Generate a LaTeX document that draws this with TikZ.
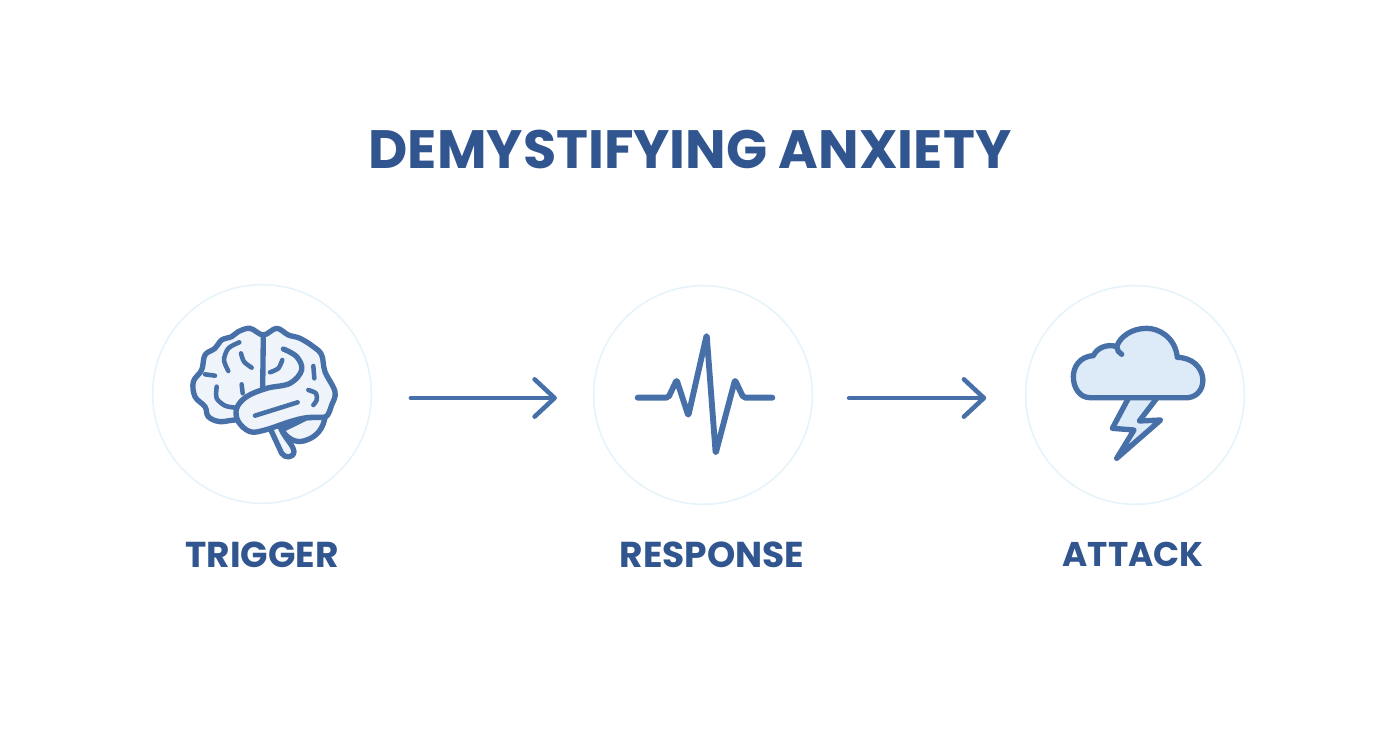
\documentclass[tikz,border=0pt]{standalone}
\usepackage{fontspec}
\setmainfont{Poppins}
\usepackage{tikz}
\usetikzlibrary{arrows.meta}
\definecolor{titleblue}{HTML}{30558F}
\definecolor{iconblue}{HTML}{4870A8}
\definecolor{ringblue}{HTML}{E6F3FA}
\definecolor{brainfill}{HTML}{EEF4FA}
\definecolor{cloudfill}{HTML}{DCEBF7}
\tikzset{
  ring/.style={circle, draw=ringblue, line width=1.2pt, minimum size=164pt, inner sep=0pt},
  heading/.style={font=\fontsize{40.5}{42}\selectfont\bfseries, text=titleblue},
  caption/.style={font=\fontsize{27}{29}\selectfont\bfseries, text=titleblue},
  flow/.style={draw=iconblue, line width=3.4pt, line cap=round, -{Straight Barb[length=15pt,width=28pt,round]}},
  icon/.style={draw=iconblue, line width=4pt, line cap=round, line join=round},
  fold/.style={draw=iconblue, line width=3.4pt, line cap=round, line join=round},
}
\begin{document}
\begin{tikzpicture}[x=0.75pt,y=-0.75pt]
\useasboundingbox (0,0) rectangle (1392,752);
\node [heading] (title) at (690,149) {DEMYSTIFYING ANXIETY};
\node [ring] (trigger) at (262,394) {};
\node [ring] (response) at (703,395) {};
\node [ring] (attack) at (1135,395) {};
\node [caption] (triggerlabel) at (262,554.5) {TRIGGER};
\node [caption] (responselabel) at (712,554.5) {RESPONSE};
\node [caption, font=\fontsize{25.7}{29}\selectfont\bfseries] (attacklabel) at (1133,554.5) {ATTACK};
\draw [flow, shorten <=29pt, shorten >=27pt] ([yshift=-3pt]trigger.east) -- ([yshift=-2.25pt]response.west);
\draw [flow, shorten <=27pt, shorten >=29pt] ([yshift=-2.25pt]response.east) -- ([yshift=-2.25pt]attack.west);
% brain
\begin{scope}[shift={(150,285)},x=0.25pt,y=-0.25pt]
\draw [icon, fill=brainfill] plot [smooth cycle, tension=0.6] coordinates {(340,150) (300,130) (265,140) (245,155) (215,165) (195,190) (165,210) (155,255) (130,290) (135,335) (165,365) (175,395) (210,410) (265,405) (340,420) (470,398) (525,397) (545,360) (555,320) (525,260) (515,210) (490,185) (450,160) (415,150) (380,130)};
\draw [icon, fill=brainfill] (395,435) .. controls (420,470) and (445,475) .. (470,465) .. controls (500,455) and (520,430) .. (525,397) -- (470,398) -- cycle;
\draw [icon, fill=brainfill] (365,440) -- (395,505) .. controls (405,520) and (430,520) .. (432,500) .. controls (430,480) and (405,460) .. (392,430);
\draw [icon, fill=brainfill] plot [smooth, tension=0.6] coordinates {(400,192) (440,215) (455,255) (420,295) (350,310) (290,335) (260,370) (265,410) (300,440) (345,435) (420,410) (470,398) (525,397)};
\draw [icon] (340,150) -- (338,312);
\draw [fold] plot [smooth] coordinates {(268,172) (235,190) (222,225) (235,258)};
\draw [fold] plot [smooth] coordinates {(273,205) (282,230) (305,248)};
\draw [fold] plot [smooth] coordinates {(397,225) (385,250) (360,262)};
\draw [fold] (165,268) -- (195,272);
\draw [fold] plot [smooth] coordinates {(200,305) (200,340) (225,362) (255,368)};
\draw [fold] (275,298) -- (278,325);
\draw [fold] (490,243) -- (493,280);
\draw [fold] plot [smooth] coordinates {(475,315) (498,325) (500,345) (490,360)};
\draw [fold] (315,392) -- (443,352);
\end{scope}
% pulse
\begin{scope}[shift={(625,325)},x=0.25pt,y=-0.25pt]
\draw [icon, line width=4.4pt, rounded corners=1.5pt] (38,218) -- (130,218) -- (155,165) -- (190,272) -- (245,30) -- (272,385) -- (330,165) -- (355,218) -- (442,218);
\end{scope}
% cloud
\begin{scope}[shift={(1060,315)},x=0.25pt,y=-0.25pt]
\draw [icon, fill=cloudfill] (205,250) -- (157,340) -- (222,345) -- (170,430) -- (302,315) -- (238,318) -- (290,250);
\draw [icon, fill=cloudfill] (90,248) -- (385,248) .. controls (450,240) and (445,130) .. (352,127) .. controls (345,65) and (295,40) .. (260,40) .. controls (215,40) and (180,65) .. (170,95) .. controls (140,85) and (110,100) .. (100,122) .. controls (55,125) and (40,160) .. (40,185) .. controls (40,220) and (60,248) .. (90,248) -- cycle;
\draw [icon] (170,95) .. controls (172,105) and (176,115) .. (185,118);
\end{scope}
\end{tikzpicture}
\end{document}
